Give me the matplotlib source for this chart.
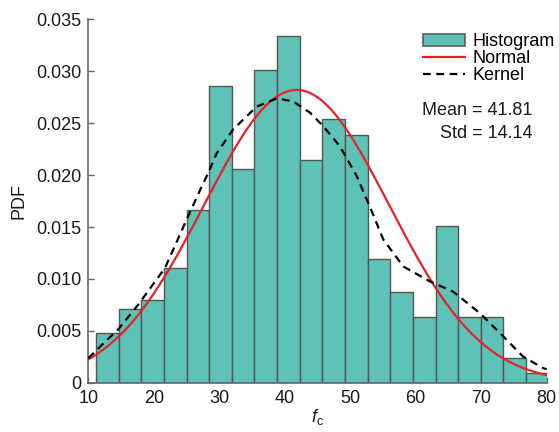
import numpy as np
import matplotlib
matplotlib.use("Agg")
import matplotlib.pyplot as plt
from matplotlib.patches import Patch
from matplotlib.lines import Line2D

plt.rcParams['font.family'] = ['Liberation Sans', 'DejaVu Sans']
plt.rcParams['mathtext.fontset'] = 'custom'
plt.rcParams['mathtext.it'] = 'Liberation Sans:italic'
plt.rcParams['mathtext.rm'] = 'Liberation Sans'

# ---- data ----
bin_start = 11.18
bin_width = 3.456
hist_heights = [0.00477, 0.00711, 0.00795, 0.01107, 0.01664, 0.02863, 0.02062,
                0.03017, 0.03339, 0.02146, 0.02545, 0.02384, 0.01191, 0.00872,
                0.00631, 0.01512, 0.00631, 0.00631, 0.00235, 0.00091]

mean_val = 41.81
std_val = 14.14

kernel_x = [10, 12, 14.5, 17.6, 21.7, 25.0, 27.1, 28.3, 29.6, 32.1, 35.7, 38.8,
            41.3, 43.9, 45.9, 48.4, 51.0, 53.3, 55.05, 58.1, 62.2, 65.7, 69.8,
            73.4, 76.4, 79.5, 80]
kernel_y = [0.00235, 0.0036, 0.00509, 0.0075, 0.01104, 0.0157, 0.0186, 0.0202,
            0.0221, 0.0244, 0.0266, 0.0274, 0.0271, 0.0260, 0.0247, 0.0228,
            0.0199, 0.0165, 0.0138, 0.0112, 0.00975, 0.00878, 0.0067, 0.00444,
            0.00251, 0.00139, 0.0013]

x_ticks = [10, 20, 30, 40, 50, 60, 70, 80]
y_ticks = [0, 0.005, 0.010, 0.015, 0.020, 0.025, 0.030, 0.035]
y_ticklabels = ['0', '0.005', '0.010', '0.015', '0.020', '0.025', '0.030', '0.035']

# ---- styling ----
bar_face = '#5ec2b7'
bar_edge = '#555555'
red = '#e8202a'
spine_col = '#666666'
fs = 13

fig = plt.figure(figsize=(5.59, 4.32), dpi=100)
W, H = 559, 432
ax = fig.add_axes([88.3 / W, 1 - 382.7 / H, (546.7 - 88.3) / W, (382.7 - 19.5) / H])

lefts = bin_start + bin_width * np.arange(len(hist_heights))
ax.bar(lefts, hist_heights, width=bin_width, align='edge', color=bar_face,
       edgecolor=bar_edge, linewidth=1.0, zorder=2)

xs = np.linspace(10, 80, 400)
normal_pdf = np.exp(-0.5 * ((xs - mean_val) / std_val) ** 2) / (std_val * np.sqrt(2 * np.pi))
ax.plot(xs, normal_pdf, color=red, lw=1.6, zorder=3)
ax.plot(kernel_x, kernel_y, color='black', lw=1.6, dashes=(3.5, 2.5), zorder=4)

ax.set_xlim(10, 80)
ax.set_ylim(0, 0.035)
ax.set_xticks(x_ticks)
ax.set_xticklabels([str(v) for v in x_ticks])
ax.set_yticks(y_ticks)
ax.set_yticklabels(y_ticklabels)
for s in ['top', 'right']:
    ax.spines[s].set_visible(False)
for s in ['left', 'bottom']:
    ax.spines[s].set_color(spine_col)
    ax.spines[s].set_linewidth(1.2)
ax.tick_params(direction='in', length=4, width=1.0, color=spine_col,
               labelsize=fs, labelcolor='#1a1a1a')
ax.tick_params(axis='y', pad=5)
ax.tick_params(axis='x', pad=5)

ax.set_ylabel('PDF', fontsize=fs, color='#1a1a1a', labelpad=6)
ax.set_xlabel(r'$f_{\mathrm{c}}$', fontsize=fs, color='#1a1a1a', labelpad=0)

handles = [Patch(facecolor=bar_face, edgecolor=bar_edge, linewidth=1.1),
           Line2D([], [], color=red, lw=1.6),
           Line2D([], [], color='black', lw=1.6, dashes=(3.5, 2.5))]
leg = fig.legend(handles, ['Histogram', 'Normal', 'Kernel'], loc='upper left',
                 bbox_to_anchor=(423 / W, 1 - 33 / H), frameon=False,
                 fontsize=fs, borderpad=0, borderaxespad=0, labelspacing=0.0,
                 handlelength=2.3, handletextpad=0.45, handleheight=0.65)

fig.text(532 / W, 1 - 115 / H, 'Mean = 41.81', ha='right', va='baseline',
         fontsize=fs, color='#1a1a1a')
fig.text(532 / W, 1 - 137.7 / H, 'Std = 14.14', ha='right', va='baseline',
         fontsize=fs, color='#1a1a1a')

fig.savefig('out.png', dpi=100)
